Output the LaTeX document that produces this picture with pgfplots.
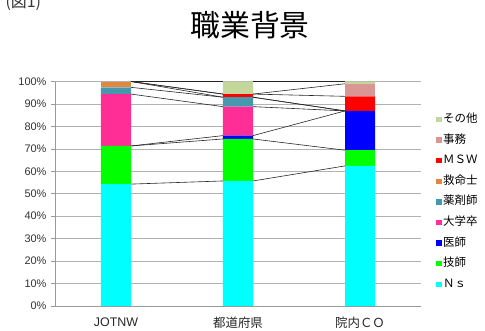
\documentclass[border=0pt]{standalone}
\usepackage{fontspec}
\setmainfont{Noto Sans CJK JP}
\newfontfamily\lib{Liberation Sans}
\usepackage{pgfplots}
\pgfplotsset{compat=1.18}
\definecolor{cNs}{RGB}{0,255,255}
\definecolor{cGishi}{RGB}{0,255,0}
\definecolor{cIshi}{RGB}{0,0,255}
\definecolor{cDai}{RGB}{255,45,150}
\definecolor{cYaku}{RGB}{70,152,174}
\definecolor{cKyu}{RGB}{226,136,62}
\definecolor{cMSW}{RGB}{255,0,0}
\definecolor{cJimu}{RGB}{217,150,148}
\definecolor{cSono}{RGB}{195,214,155}
\pgfplotsset{lg/.style={legend image code/.code={\fill[##1,draw=none] (0bp,-2.7bp) rectangle (5.7bp,2.7bp);}},
  sl/.style={black!85, solid, line width=0.6bp, no marks}}
\begin{document}
\begin{tikzpicture}[x=1bp,y=1bp]
\path[use as bounding box] (0,0) rectangle (485,-330);
\node[anchor=base west, font=\fontsize{16}{16}\selectfont, text=black!80] at (2,-7) {(図1)};
\node[font=\fontsize{30}{30}\selectfont] at (250,-25.5) {職業背景};
\begin{axis}[
  at={(55bp,-306bp)}, anchor=south west,
  scale only axis, width=366bp, height=224.5bp,
  ybar stacked, bar width=0.246,
  xmin=-0.5, xmax=2.5, ymin=0, ymax=100,
  xtick={0,1,2},
  xticklabels={{\lib JOTNW},都道府県,院内ＣＯ},
  ytick={0,10,...,100},
  yticklabel={\pgfmathprintnumber{\tick}\%},
  /pgf/number format/assume math mode=true,
  ymajorgrids, grid style={gray!60, line width=0.6bp},
  axis x line*=bottom, axis y line*=left,
  axis line style={gray!80, line width=0.6bp},
  tick align=outside, major tick length=4bp,
  xtick style={draw=none}, ytick style={gray!80, line width=0.6bp},
  yticklabel style={font=\lib\fontsize{11}{11}\selectfont, text=black!80, xshift=-1bp},
  xticklabel style={font=\fontsize{12.5}{12.5}\selectfont, text=black!85, yshift=-4bp},
  reverse legend,
  legend cell align=left,
  legend style={at={(1.0410,0.8620)}, anchor=north west, draw=none, fill=none,
    inner sep=0pt, outer sep=0pt, font=\fontsize{11.5}{11.5}\selectfont,
    row sep=6.6bp, column sep=0.5bp,
    nodes={inner sep=1bp, text height=9bp, text depth=3bp}},
  every axis plot/.append style={draw=none, lg},
]
\addplot[fill=cNs] coordinates {(0,54.3) (1,55.7) (2,62.4)};
\addlegendentry{Ｎｓ}
\addplot[fill=cGishi] coordinates {(0,17.0) (1,18.7) (2,7.0)};
\addlegendentry{技師}
\addplot[fill=cIshi] coordinates {(0,0) (1,1.5) (2,17.5)};
\addlegendentry{医師}
\addplot[fill=cDai] coordinates {(0,23.1) (1,12.9) (2,0)};
\addlegendentry{大学卒}
\addplot[fill=cYaku] coordinates {(0,3.0) (1,4.2) (2,0)};
\addlegendentry{薬剤師}
\addplot[fill=cKyu] coordinates {(0,2.6) (1,0) (2,0)};
\addlegendentry{救命士}
\addplot[fill=cMSW] coordinates {(0,0) (1,1.4) (2,6.5)};
\addlegendentry{ＭＳＷ}
\addplot[fill=cJimu] coordinates {(0,0) (1,0) (2,5.6)};
\addlegendentry{事務}
\addplot[fill=cSono] coordinates {(0,0) (1,5.6) (2,1.0)};
\addlegendentry{その他}
\end{axis}
\begin{axis}[
  at={(55bp,-306bp)}, anchor=south west,
  scale only axis, width=366bp, height=224.5bp,
  xmin=-0.5, xmax=2.5, ymin=0, ymax=100,
  hide axis, unbounded coords=jump,
]
\addplot[sl] coordinates {(0.123,54.3) (0.877,55.7) (1,nan) (1.123,55.7) (1.877,62.4)};
\addplot[sl] coordinates {(0.123,71.3) (0.877,74.4) (1,nan) (1.123,74.4) (1.877,69.4)};
\addplot[sl] coordinates {(0.123,71.3) (0.877,75.9) (1,nan) (1.123,75.9) (1.877,86.9)};
\addplot[sl] coordinates {(0.123,94.4) (0.877,88.8) (1,nan) (1.123,88.8) (1.877,86.9)};
\addplot[sl] coordinates {(0.123,97.4) (0.877,93.0) (1,nan) (1.123,93.0) (1.877,86.9)};
\addplot[sl] coordinates {(0.123,100) (0.877,93.0) (1,nan) (1.123,93.0) (1.877,86.9)};
\addplot[sl] coordinates {(0.123,100) (0.877,94.4) (1,nan) (1.123,94.4) (1.877,93.4)};
\addplot[sl] coordinates {(0.123,100) (0.877,94.4) (1,nan) (1.123,94.4) (1.877,99.0)};
\addplot[sl] coordinates {(0.123,100) (0.877,100) (1,nan) (1.123,100) (1.877,100)};
\end{axis}
\end{tikzpicture}
\end{document}
